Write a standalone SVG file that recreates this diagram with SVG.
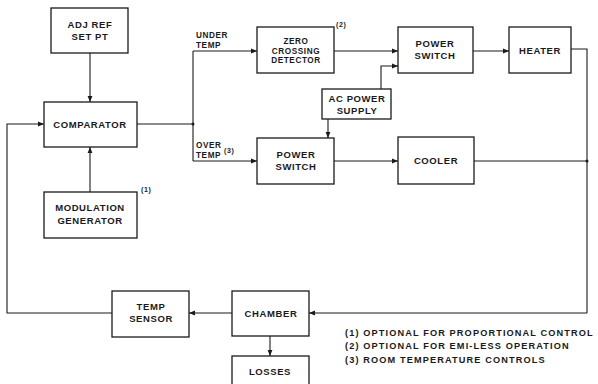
<svg xmlns="http://www.w3.org/2000/svg" width="598" height="384" viewBox="0 0 598 384">
<defs>
<marker id="ah" viewBox="0 0 10 10" refX="10" refY="5" markerWidth="6" markerHeight="6" orient="auto" markerUnits="userSpaceOnUse">
<path d="M0,1 L10,5 L0,9 Z" fill="#1a1a1a"/>
</marker>
</defs>
<style>
rect{fill:#fff;stroke:#1a1a1a;stroke-width:1.3}
text{font-family:"Liberation Sans",Arial,sans-serif;font-size:9.5px;font-weight:bold;fill:#1a1a1a;text-anchor:middle;letter-spacing:0.6px}
.l{text-anchor:start;font-size:8.2px}
.t{font-size:8.2px}
.sm{font-size:7px;text-anchor:start}
.c{fill:none;stroke:#1a1a1a;stroke-width:1.1}
.a{marker-end:url(#ah)}
.fn{font-size:9.2px;font-weight:bold;text-anchor:start;letter-spacing:1.12px}
</style>
<rect x="0" y="0" width="598" height="384" style="fill:#fff;stroke:none"/>
<g id="connectors">
<path class="c a" d="M90,53 V102"/>
<path class="c a" d="M90,192 V147"/>
<path class="c" d="M137,124 H193"/>
<path class="c" d="M193,51 V161"/>
<circle cx="193" cy="124" r="1.5" fill="#1a1a1a"/>
<path class="c a" d="M193,51 H257"/>
<path class="c a" d="M193,161 H257"/>
<path class="c a" d="M334,51 H398"/>
<path class="c a" d="M473,51 H509"/>
<path class="c a" d="M381,89 V66 H398"/>
<path class="c a" d="M328,119 V138"/>
<path class="c a" d="M334,161 H398"/>
<path class="c" d="M474,161 H587"/>
<path class="c" d="M571,49 H587 V313"/>
<circle cx="587" cy="161" r="1.5" fill="#1a1a1a"/>
<path class="c a" d="M587,313 H309"/>
<path class="c a" d="M232,313 H189"/>
<path class="c a" d="M270,336 V356"/>
<path class="c a" d="M112,313 H7 V124 H44"/>
</g>
<g id="adj">
<rect x="51" y="8" width="77" height="45"/>
<text x="90" y="28">ADJ REF</text>
<text x="90" y="40">SET PT</text>
</g>
<g id="comparator">
<rect x="44" y="102" width="93" height="45"/>
<text x="90" y="128">COMPARATOR</text>
</g>
<g id="modgen">
<rect x="44" y="192" width="93" height="46"/>
<text x="90" y="211">MODULATION</text>
<text x="90" y="224">GENERATOR</text>
<text class="sm" x="141" y="192">(1)</text>
</g>
<g id="labels">
<text class="l" x="196" y="37.5">UNDER</text>
<text class="l" x="196" y="47.5">TEMP</text>
<text class="l" x="196" y="147.5">OVER</text>
<text class="l" x="196" y="157.5">TEMP</text>
<text class="sm" x="224" y="153">(3)</text>
</g>
<g id="zcd">
<rect x="257" y="27" width="77" height="46"/>
<text class="t" x="296" y="44">ZERO</text>
<text class="t" x="296" y="53.5">CROSSING</text>
<text class="t" x="296" y="63">DETECTOR</text>
<text class="sm" x="336" y="27">(2)</text>
</g>
<g id="ps1">
<rect x="398" y="27" width="75" height="46"/>
<text x="435" y="47">POWER</text>
<text x="435" y="59">SWITCH</text>
</g>
<g id="heater">
<rect x="509" y="27" width="62" height="46"/>
<text x="540" y="54">HEATER</text>
</g>
<g id="acps">
<rect x="322" y="89" width="69" height="30"/>
<text x="357" y="102">AC POWER</text>
<text x="357" y="114">SUPPLY</text>
</g>
<g id="ps2">
<rect x="257" y="138" width="77" height="46"/>
<text x="296" y="158">POWER</text>
<text x="296" y="170">SWITCH</text>
</g>
<g id="cooler">
<rect x="398" y="137" width="76" height="47"/>
<text x="436" y="164">COOLER</text>
</g>
<g id="sensor">
<rect x="112" y="291" width="77" height="46"/>
<text x="151" y="310">TEMP</text>
<text x="151" y="322">SENSOR</text>
</g>
<g id="chamber">
<rect x="232" y="291" width="77" height="45"/>
<text x="271" y="317">CHAMBER</text>
</g>
<g id="losses">
<rect x="232" y="356" width="77" height="30"/>
<text x="270" y="375">LOSSES</text>
</g>
<g id="notes">
<text class="fn" x="345" y="336">(1) OPTIONAL FOR PROPORTIONAL CONTROL</text>
<text class="fn" x="345" y="349">(2) OPTIONAL FOR EMI-LESS OPERATION</text>
<text class="fn" x="345" y="363">(3) ROOM TEMPERATURE CONTROLS</text>
</g>
</svg>
